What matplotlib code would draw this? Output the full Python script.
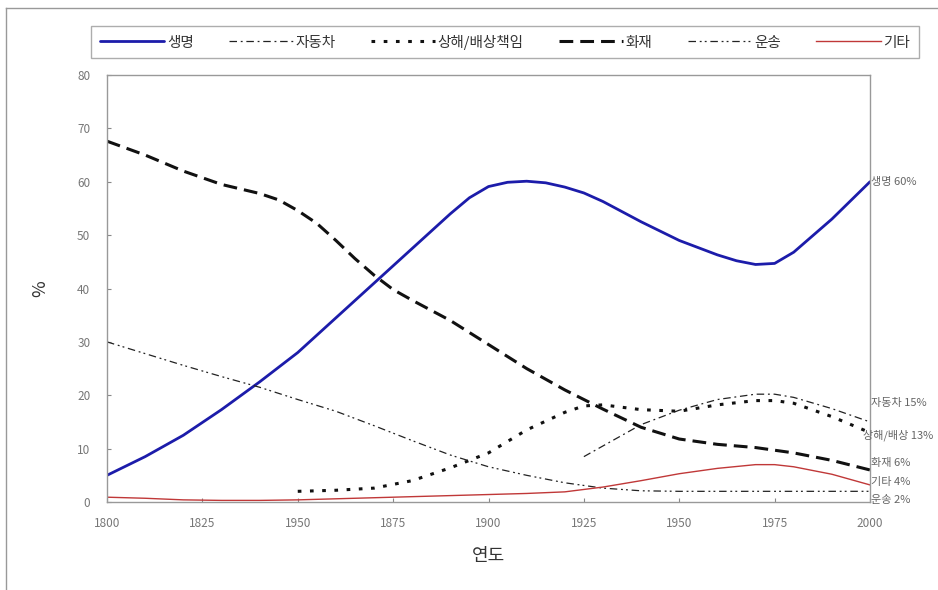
import matplotlib
matplotlib.use("Agg")
import matplotlib.pyplot as plt
from matplotlib.lines import Line2D

plt.rcParams['font.family'] = ['Noto Sans CJK KR', 'DejaVu Sans']

# ---- data ----
years_life = [1800, 1810, 1820, 1830, 1840, 1850, 1860, 1870, 1880, 1890, 1895,
              1900, 1905, 1910, 1915, 1920, 1925, 1930, 1940, 1950, 1960,
              1965, 1970, 1975, 1980, 1990, 2000]
life = [5, 8.5, 12.5, 17.3, 22.5, 28, 34.5, 41, 47.5, 54, 57,
        59.1, 59.9, 60.1, 59.8, 59, 57.9, 56.3, 52.5, 49, 46.3,
        45.2, 44.5, 44.7, 46.8, 53, 60]

years_fire = [1800, 1810, 1820, 1830, 1840, 1845, 1850, 1855, 1860, 1865, 1870,
              1875, 1880, 1890, 1900, 1910, 1920, 1930, 1940, 1950, 1960,
              1970, 1980, 1990, 2000]
fire = [67.6, 65, 62, 59.5, 57.8, 56.6, 54.6, 52.2, 49, 45.6, 42.5,
        39.8, 37.8, 34, 29.5, 25, 21, 17.4, 14, 11.8, 10.8,
        10.2, 9.2, 7.8, 6]

years_transport = [1800, 1810, 1820, 1830, 1840, 1850, 1860, 1870, 1880, 1890, 1900,
                   1910, 1920, 1930, 1940, 1950, 1960, 1970, 1980, 1990, 2000]
transport = [30, 27.8, 25.6, 23.5, 21.5, 19.2, 17, 14.3, 11.5, 8.8, 6.6,
             5, 3.6, 2.6, 2.1, 2, 2, 2, 2, 2, 2]

years_auto = [1925, 1930, 1940, 1950, 1960, 1970, 1975, 1980, 1990, 2000]
auto = [8.5, 10.5, 14.5, 17.2, 19.2, 20.2, 20.2, 19.6, 17.5, 15]

years_liab = [1850, 1860, 1870, 1880, 1890, 1900, 1910, 1920, 1925, 1930, 1940,
              1950, 1960, 1970, 1975, 1980, 1990, 2000]
liab = [2, 2.2, 2.6, 4, 6.4, 9.2, 13.5, 16.8, 18, 18.2, 17.3,
        17, 18.2, 19, 19, 18.5, 16, 13]

years_other = [1800, 1810, 1820, 1830, 1840, 1850, 1860, 1870, 1880, 1890, 1900,
               1910, 1920, 1930, 1940, 1950, 1960, 1970, 1975, 1980, 1990, 2000]
other = [0.9, 0.7, 0.4, 0.3, 0.3, 0.4, 0.6, 0.8, 1.0, 1.2, 1.4,
         1.6, 1.9, 2.8, 4, 5.3, 6.3, 7, 7, 6.6, 5.2, 3.2]

series_names = ['생명', '자동차', '상해/배상책임', '화재', '운송', '기타']
end_labels = ['생명 60%', '자동차 15%', '상해/배상 13%', '화재 6%', '기타 4%', '운송 2%']
end_label_y = [60, 18.5, 12.5, 7.3, 3.7, 0.4]

xticks = [1800, 1825, 1850, 1875, 1900, 1925, 1950, 1975, 2000]
xtick_labels = ['1800', '1825', '1950', '1875', '1900', '1925', '1950', '1975', '2000']
yticks = [0, 10, 20, 30, 40, 50, 60, 70, 80]

# ---- figure ----
fig = plt.figure(figsize=(9.38, 5.90), dpi=100)
ax = fig.add_axes([107/938, 1 - 502/590, (870-107)/938, (502-75)/590])

h_life, = ax.plot(years_life, life, color='#1c1caa', lw=2.0,
                  solid_joinstyle='round', solid_capstyle='round')
h_auto, = ax.plot(years_auto, auto, color='#222222', lw=0.9, linestyle=(0, (6, 3, 1.5, 3)))
h_liab, = ax.plot(years_liab, liab, color='#111111', lw=2.2, linestyle=(0, (1.2, 2.8)))
h_fire, = ax.plot(years_fire, fire, color='#111111', lw=2.2, linestyle=(0, (4.5, 2.3)))
h_trans, = ax.plot(years_transport, transport, color='#222222', lw=0.9,
                   linestyle=(0, (6, 3, 1.5, 2.5, 1.5, 3)))
h_other, = ax.plot(years_other, other, color='#c03838', lw=1.0)

ax.set_xlim(1800, 2000)
ax.set_ylim(0, 80)
ax.set_xticks(xticks)
ax.set_xticklabels(xtick_labels)
ax.set_yticks(yticks)
ax.tick_params(direction='in', length=3, color='#888888', labelcolor='#777777',
               labelsize=8.5)
ax.tick_params(axis='y', pad=12)
ax.tick_params(axis='x', pad=11)
for s in ax.spines.values():
    s.set_color('#999999')
    s.set_linewidth(1.0)

ax.set_xlabel('연도', fontsize=13, color='#333333', labelpad=12)
ax.set_ylabel('%', fontsize=13, color='#333333', labelpad=20)

# end labels
for txt, yv in zip(end_labels, end_label_y):
    dx = -5 if txt.startswith('상해') else 1
    ax.annotate(txt, xy=(2000, yv), xytext=(dx, 0), textcoords='offset points',
                fontsize=8, color='#666666', va='center', ha='left',
                annotation_clip=False)

# legend
handles = [h_life, h_auto, h_liab, h_fire, h_trans, h_other]
leg = fig.legend(handles, series_names, loc='center', ncol=6,
                 bbox_to_anchor=(505/938, 1 - 42/590), frameon=True,
                 fontsize=10.5, handlelength=4.4, handletextpad=0.2,
                 columnspacing=2.4, borderpad=0.6, fancybox=False,
                 labelcolor='#333333')
leg.get_frame().set_edgecolor('#999999')
leg.get_frame().set_linewidth(1.0)

# outer chart border (left and top)
fig.add_artist(Line2D([6/938, 6/938], [0, 1 - 8/590], transform=fig.transFigure,
                      color='#999999', lw=1.0))
fig.add_artist(Line2D([6/938, 1], [1 - 8/590, 1 - 8/590], transform=fig.transFigure,
                      color='#999999', lw=1.0))

fig.savefig('out.png', dpi=100)
